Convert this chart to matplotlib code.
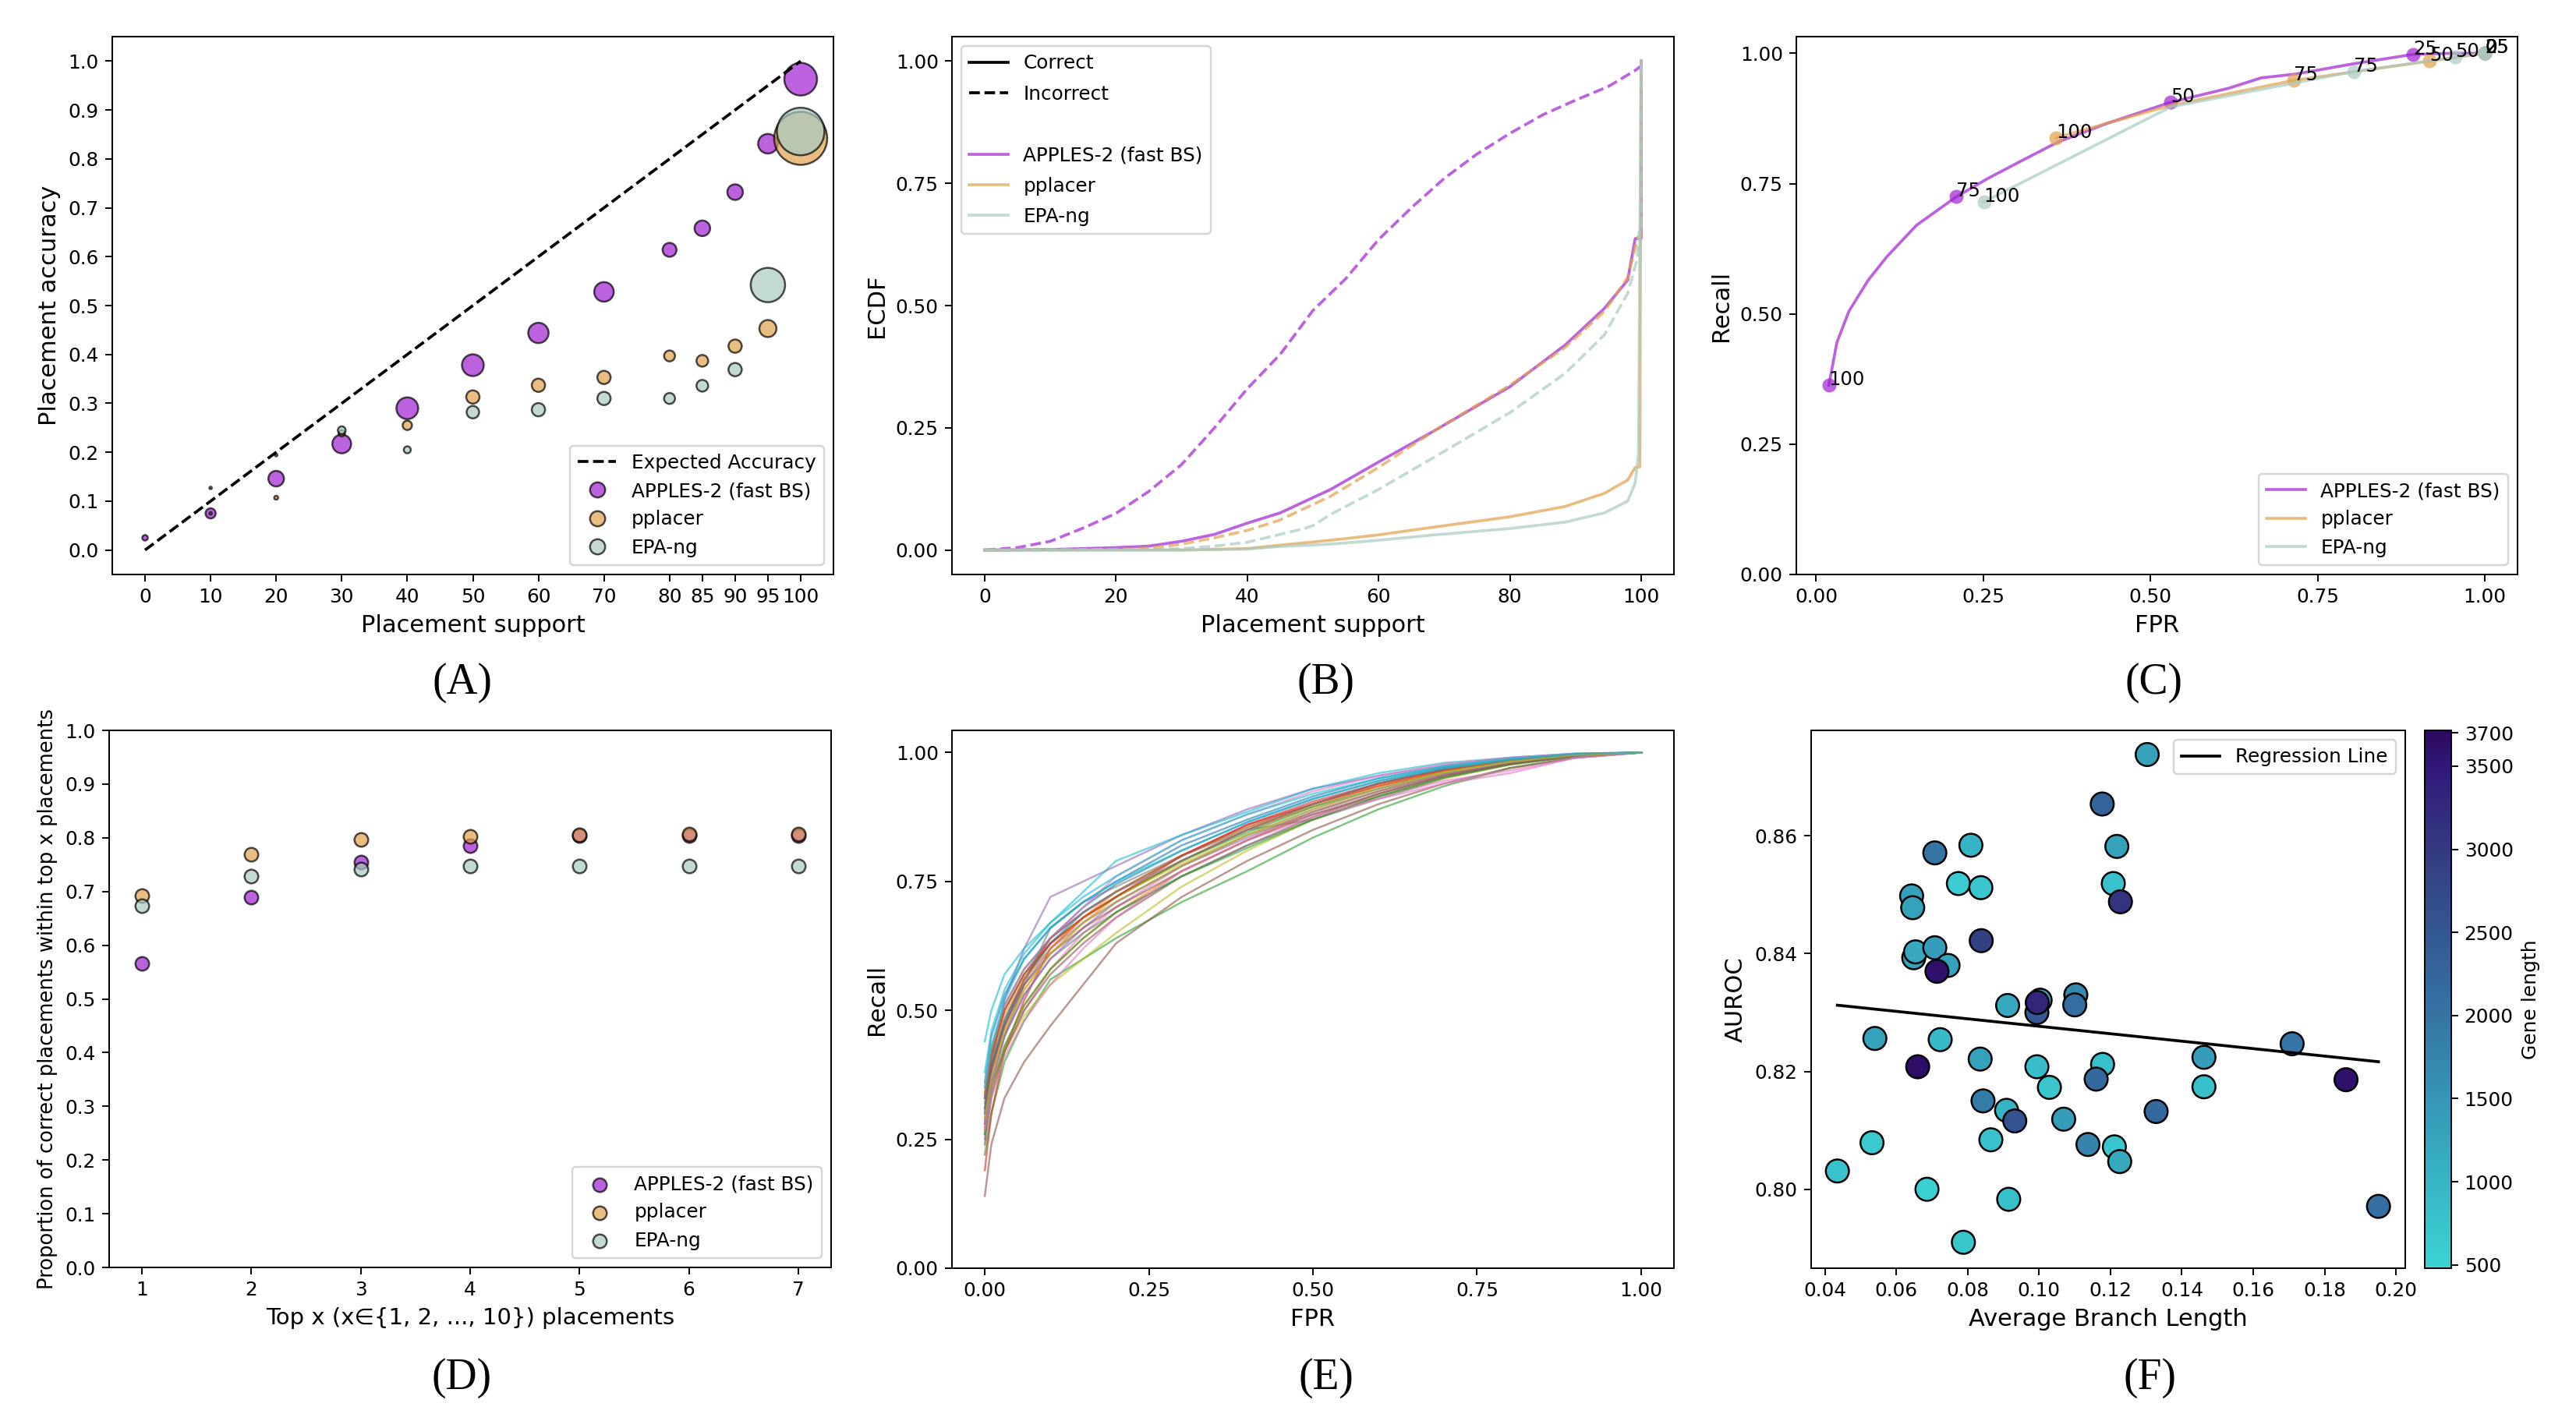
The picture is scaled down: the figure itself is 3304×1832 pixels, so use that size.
import numpy as np
import matplotlib
matplotlib.use("Agg")
import matplotlib.pyplot as plt
from matplotlib.lines import Line2D
from matplotlib.colors import LinearSegmentedColormap, Normalize

# ---------------- data ----------------
# Panel A
support = [0, 10, 20, 30, 40, 50, 60, 70, 80, 85, 90, 95, 100]
support_labels = [str(v) for v in support]
apples_acc = [0.025, 0.075, 0.146, 0.217, 0.290, 0.378, 0.444, 0.528, 0.614, 0.658, 0.732, 0.831, 0.963]
apples_n = [5, 17, 40, 58, 78, 78, 68, 63, 32, 40, 40, 63, 176]
pplacer_acc = [np.nan, 0.127, 0.107, 0.239, 0.255, 0.313, 0.337, 0.353, 0.397, 0.387, 0.417, 0.453, 0.842]
pplacer_n = [0, 1, 2.5, 6.4, 14.4, 29, 29, 29, 19.6, 22.5, 29, 48, 462]
epa_acc = [np.nan, 0.075, 0.194, 0.245, 0.205, 0.282, 0.287, 0.310, 0.310, 0.336, 0.369, 0.542, 0.856]
epa_n = [0, 1, 1, 10, 8, 25.6, 29, 29, 19.6, 22.5, 29, 194, 372]
expected_x = [0, 100]
expected_y = [0.0, 1.0]

# Panel B (ECDF of placement support)
app_inc_x = [0, 5, 10, 15, 20, 25, 30, 35, 40, 45, 50, 55, 60, 65, 70, 75, 80, 85, 90, 95, 99, 100, 100]
app_inc_y = [0, 0.005, 0.018, 0.045, 0.075, 0.12, 0.175, 0.25, 0.33, 0.40, 0.49, 0.555, 0.635, 0.70,
             0.76, 0.81, 0.852, 0.89, 0.92, 0.948, 0.98, 0.99, 1.0]
app_cor_x = [0, 10, 20, 25, 30, 35, 40, 45, 52.7, 60, 68.5, 80, 88.4, 94.4, 97.95, 99.1, 100, 100]
app_cor_y = [0, 0.001, 0.005, 0.008, 0.018, 0.032, 0.055, 0.076, 0.124, 0.18, 0.244, 0.334, 0.419,
             0.494, 0.552, 0.637, 0.637, 1.0]
ppl_inc_x = [0, 20, 25, 30, 35, 40, 44.7, 52.7, 60, 68.5, 80, 88.4, 94.4, 97.95, 99.5, 100, 100]
ppl_inc_y = [0, 0.001, 0.004, 0.012, 0.025, 0.04, 0.06, 0.11, 0.169, 0.244, 0.337, 0.414, 0.488,
             0.557, 0.64, 0.64, 1.0]
ppl_cor_x = [0, 30, 40, 44.7, 52.7, 60, 68.5, 80, 88.4, 94.4, 97.95, 99.1, 99.8, 100]
ppl_cor_y = [0, 0.0, 0.003, 0.0096, 0.02, 0.031, 0.047, 0.068, 0.089, 0.116, 0.143, 0.169, 0.17, 1.0]
epa_inc_x = [0, 25, 30, 35, 40, 44.7, 48.7, 50, 52.7, 60, 68.5, 80, 88.4, 94.4, 97.95, 99.4, 99.7, 100, 100]
epa_inc_y = [0, 0.001, 0.003, 0.008, 0.016, 0.031, 0.044, 0.05, 0.073, 0.124, 0.19, 0.281, 0.361,
             0.44, 0.525, 0.595, 0.65, 0.65, 1.0]
epa_cor_x = [0, 30, 40, 44.7, 52.7, 60, 68.5, 80, 88.4, 94.4, 97.95, 99.1, 99.6, 100]
epa_cor_y = [0, 0, 0.002, 0.007, 0.012, 0.02, 0.031, 0.044, 0.057, 0.076, 0.1, 0.137, 0.196, 1.0]

# Panel C (ROC with support thresholds)
app_roc_fpr = [0.019, 0.031, 0.049, 0.078, 0.106, 0.150, 0.210, 0.257, 0.309, 0.362, 0.434, 0.530,
               0.617, 0.666, 0.716, 0.804, 0.893, 0.95, 1.0]
app_roc_rec = [0.363, 0.445, 0.505, 0.565, 0.610, 0.670, 0.725, 0.760, 0.795, 0.830, 0.865, 0.906,
               0.933, 0.953, 0.960, 0.980, 0.998, 1.0, 1.0]
ppl_roc_fpr = [0.359, 0.530, 0.714, 0.917, 1.0]
ppl_roc_rec = [0.838, 0.900, 0.948, 0.985, 1.0]
epa_roc_fpr = [0.251, 0.530, 0.804, 0.956, 1.0]
epa_roc_rec = [0.715, 0.897, 0.965, 0.9925, 1.0]
thresholds = ["100", "75", "50", "25", "0"]
app_thr_fpr = [0.019, 0.210, 0.530, 0.893, 1.0]
app_thr_rec = [0.363, 0.725, 0.906, 0.998, 1.0]
ppl_thr_fpr = [0.359, 0.714, 0.917, 1.0, 1.0]
ppl_thr_rec = [0.838, 0.948, 0.985, 1.0, 1.0]
epa_thr_fpr = [0.251, 0.804, 0.956, 1.0, 1.0]
epa_thr_rec = [0.715, 0.965, 0.9925, 1.0, 1.0]

# Panel D
topx = [1, 2, 3, 4, 5, 6, 7]
apples_top = [0.566, 0.690, 0.754, 0.785, 0.804, 0.804, 0.804]
pplacer_top = [0.693, 0.769, 0.797, 0.802, 0.805, 0.807, 0.807]
epa_top = [0.674, 0.729, 0.742, 0.748, 0.748, 0.748, 0.748]

# Panel E (per-gene ROC curves)
gene_fpr = [0.0, 0.01, 0.03, 0.06, 0.1, 0.15, 0.2, 0.3, 0.4, 0.5, 0.6, 0.7, 0.8, 0.9, 1.0]
gene_recall = [
    [0.33, 0.42, 0.50, 0.57, 0.64, 0.70, 0.745, 0.81, 0.865, 0.91, 0.945, 0.97, 0.985, 0.996, 1.0],
    [0.30, 0.38, 0.46, 0.54, 0.61, 0.67, 0.72, 0.79, 0.85, 0.895, 0.935, 0.962, 0.982, 0.995, 1.0],
    [0.22, 0.30, 0.40, 0.48, 0.56, 0.60, 0.64, 0.71, 0.77, 0.835, 0.89, 0.935, 0.97, 0.99, 1.0],
    [0.19, 0.30, 0.42, 0.52, 0.62, 0.68, 0.72, 0.79, 0.85, 0.90, 0.935, 0.965, 0.984, 0.996, 1.0],
    [0.25, 0.40, 0.52, 0.62, 0.72, 0.75, 0.78, 0.84, 0.89, 0.93, 0.955, 0.975, 0.99, 0.998, 1.0],
    [0.14, 0.24, 0.33, 0.40, 0.47, 0.55, 0.63, 0.72, 0.79, 0.85, 0.90, 0.94, 0.97, 0.99, 1.0],
    [0.30, 0.36, 0.42, 0.50, 0.58, 0.65, 0.70, 0.78, 0.84, 0.88, 0.915, 0.945, 0.965, 0.99, 1.0],
    [0.26, 0.35, 0.45, 0.55, 0.66, 0.71, 0.74, 0.80, 0.85, 0.87, 0.91, 0.95, 0.978, 0.994, 1.0],
    [0.27, 0.34, 0.42, 0.49, 0.55, 0.60, 0.65, 0.74, 0.81, 0.87, 0.915, 0.95, 0.976, 0.993, 1.0],
    [0.44, 0.50, 0.57, 0.62, 0.67, 0.73, 0.79, 0.84, 0.885, 0.93, 0.96, 0.98, 0.99, 0.998, 1.0],
    [0.36, 0.45, 0.53, 0.60, 0.66, 0.71, 0.75, 0.82, 0.87, 0.915, 0.95, 0.972, 0.987, 0.997, 1.0],
    [0.27, 0.35, 0.43, 0.51, 0.58, 0.64, 0.69, 0.77, 0.83, 0.885, 0.925, 0.958, 0.98, 0.994, 1.0],
    [0.32, 0.40, 0.48, 0.56, 0.63, 0.68, 0.72, 0.79, 0.845, 0.895, 0.93, 0.962, 0.982, 0.995, 1.0],
    [0.28, 0.38, 0.47, 0.56, 0.64, 0.69, 0.73, 0.80, 0.86, 0.905, 0.94, 0.968, 0.985, 0.996, 1.0],
    [0.31, 0.39, 0.47, 0.55, 0.62, 0.67, 0.71, 0.78, 0.84, 0.89, 0.93, 0.96, 0.98, 0.995, 1.0],
    [0.24, 0.33, 0.42, 0.50, 0.57, 0.63, 0.68, 0.76, 0.82, 0.875, 0.92, 0.955, 0.978, 0.993, 1.0],
    [0.35, 0.43, 0.51, 0.58, 0.64, 0.70, 0.76, 0.83, 0.88, 0.925, 0.955, 0.978, 0.99, 0.998, 1.0],
    [0.29, 0.37, 0.45, 0.53, 0.60, 0.65, 0.69, 0.76, 0.82, 0.87, 0.915, 0.952, 0.977, 0.993, 1.0],
    [0.34, 0.42, 0.50, 0.57, 0.63, 0.68, 0.72, 0.785, 0.84, 0.885, 0.925, 0.96, 0.98, 0.995, 1.0],
    [0.38, 0.46, 0.54, 0.61, 0.67, 0.72, 0.76, 0.83, 0.88, 0.92, 0.95, 0.974, 0.988, 0.997, 1.0],
    [0.30, 0.39, 0.48, 0.56, 0.63, 0.69, 0.73, 0.80, 0.855, 0.90, 0.94, 0.967, 0.984, 0.996, 1.0],
    [0.34, 0.41, 0.49, 0.56, 0.62, 0.68, 0.73, 0.80, 0.855, 0.90, 0.938, 0.965, 0.984, 0.996, 1.0],
    [0.26, 0.34, 0.43, 0.51, 0.58, 0.64, 0.69, 0.76, 0.815, 0.87, 0.915, 0.952, 0.977, 0.993, 1.0],
    [0.33, 0.41, 0.50, 0.57, 0.63, 0.68, 0.72, 0.80, 0.86, 0.90, 0.94, 0.966, 0.985, 0.996, 1.0],
    [0.28, 0.36, 0.45, 0.53, 0.60, 0.66, 0.71, 0.78, 0.835, 0.885, 0.925, 0.958, 0.98, 0.994, 1.0],
    [0.31, 0.39, 0.47, 0.55, 0.61, 0.66, 0.70, 0.77, 0.83, 0.88, 0.92, 0.955, 0.978, 0.994, 1.0],
    [0.27, 0.34, 0.41, 0.48, 0.55, 0.62, 0.68, 0.77, 0.83, 0.875, 0.91, 0.94, 0.96, 0.99, 1.0],
    [0.33, 0.42, 0.51, 0.58, 0.64, 0.69, 0.73, 0.79, 0.85, 0.90, 0.94, 0.968, 0.985, 0.996, 1.0],
    [0.29, 0.37, 0.46, 0.54, 0.61, 0.67, 0.71, 0.78, 0.84, 0.89, 0.93, 0.962, 0.982, 0.995, 1.0],
    [0.35, 0.43, 0.52, 0.60, 0.66, 0.71, 0.75, 0.81, 0.865, 0.91, 0.945, 0.97, 0.986, 0.997, 1.0],
]

# Panel F
avg_branch = [0.1303, 0.1177, 0.0809, 0.0708, 0.1218, 0.0774, 0.0837, 0.1208, 0.0643, 0.0646,
              0.1228, 0.0838, 0.0649, 0.0654, 0.0708, 0.0745, 0.0714, 0.0912, 0.1003, 0.0994,
              0.0995, 0.1103, 0.1100, 0.0540, 0.0723, 0.0660, 0.0835, 0.0994, 0.1178, 0.1029,
              0.1160, 0.1462, 0.1462, 0.1709, 0.1860, 0.0843, 0.0909, 0.0932, 0.1069, 0.1328,
              0.0532, 0.0865, 0.1137, 0.1211, 0.1226, 0.0435, 0.0686, 0.0915, 0.0788, 0.1951]
auroc = [0.8738, 0.8654, 0.8584, 0.8571, 0.8582, 0.8519, 0.8512, 0.8519, 0.8498, 0.8478,
         0.8488, 0.8422, 0.8393, 0.8403, 0.8410, 0.8380, 0.8370, 0.8312, 0.8321, 0.8300,
         0.8317, 0.8330, 0.8313, 0.8256, 0.8254, 0.8208, 0.8221, 0.8208, 0.8212, 0.8173,
         0.8187, 0.8224, 0.8174, 0.8247, 0.8186, 0.8150, 0.8134, 0.8116, 0.8119, 0.8132,
         0.8079, 0.8084, 0.8076, 0.8072, 0.8047, 0.8031, 0.8000, 0.7983, 0.7910, 0.7971]
gene_length = [1300, 2300, 1000, 2000, 1300, 600, 700, 750, 1300, 1300,
               3100, 2900, 1300, 1200, 1400, 1300, 3600, 1200, 1200, 2500,
               3300, 1700, 2100, 1300, 900, 3650, 1300, 850, 800, 700,
               2200, 1400, 800, 2000, 3600, 1900, 1000, 2600, 1400, 2200,
               650, 750, 1800, 700, 1200, 750, 550, 800, 700, 2100]
gene_min, gene_max = 480, 3715
reg_slope, reg_intercept = -0.0633, 0.8340
cbar_ticks = [500, 1000, 1500, 2000, 2500, 3000, 3500, 3700]
cmap_vals = [500, 1000, 1500, 2000, 2500, 3000, 3500, 3700]
cmap_cols = ["#3BD3D3", "#36B4C5", "#3596B6", "#3574A4", "#335893", "#343A80", "#32187A", "#2C0A5E"]

# ---------------- style ----------------
plt.rcParams.update({
    "font.family": ["DejaVu Sans"],
    "font.size": 17.8,
    "axes.labelsize": 22,
    "xtick.labelsize": 17.8,
    "ytick.labelsize": 17.8,
    "legend.fontsize": 17.8,
    "lines.linewidth": 2.67,
    "axes.linewidth": 1.42,
    "xtick.major.size": 6.2, "ytick.major.size": 6.2,
    "xtick.major.width": 1.42, "ytick.major.width": 1.42,
    "xtick.major.pad": 6.2, "ytick.major.pad": 6.2,
    "axes.labelpad": 7.1,
    "patch.linewidth": 1.78,
})

C_APP = "#A020D0"
C_PPL = "#E1A24C"
C_EPA = "#A8CAC2"
ALPHA = 0.7

W, H = 3304, 1832
fig = plt.figure(figsize=(W / 100, H / 100), dpi=100)


def add_ax(l, t, r, b):
    return fig.add_axes([l / W, 1 - b / H, (r - l) / W, (b - t) / H])


# ---------------- Panel A ----------------
axA = add_ax(144, 47, 1069, 737)
axA.plot(expected_x, expected_y, "--", color="black", label="Expected Accuracy")
for acc, n, c in [(apples_acc, apples_n, C_APP), (pplacer_acc, pplacer_n, C_PPL), (epa_acc, epa_n, C_EPA)]:
    axA.scatter(support, acc, s=np.array(n) * 5.184, color=c, alpha=ALPHA,
                edgecolors="black", linewidths=1.78)
axA.set_xticks(support)
axA.set_xticklabels(support_labels)
axA.set_yticks(np.round(np.arange(0, 1.01, 0.1), 1))
axA.set_xlim(-5, 105)
axA.set_ylim(-0.05, 1.05)
axA.set_xlabel("Placement support")
axA.set_ylabel("Placement accuracy")
hA = [Line2D([], [], ls="--", color="black"),
      Line2D([], [], ls="", marker="o", ms=14, mfc=C_APP, mec="black", mew=1.78, alpha=ALPHA),
      Line2D([], [], ls="", marker="o", ms=14, mfc=C_PPL, mec="black", mew=1.78, alpha=ALPHA),
      Line2D([], [], ls="", marker="o", ms=14, mfc=C_EPA, mec="black", mew=1.78, alpha=ALPHA)]
axA.legend(hA, ["Expected Accuracy", "APPLES-2 (fast BS)", "pplacer", "EPA-ng"], loc="lower right")

# ---------------- Panel B ----------------
axB = add_ax(1221, 47, 2147, 737)
axB.plot(app_cor_x, app_cor_y, "-", color=C_APP, alpha=ALPHA)
axB.plot(app_inc_x, app_inc_y, "--", color=C_APP, alpha=ALPHA)
axB.plot(ppl_cor_x, ppl_cor_y, "-", color=C_PPL, alpha=ALPHA)
axB.plot(ppl_inc_x, ppl_inc_y, "--", color=C_PPL, alpha=ALPHA)
axB.plot(epa_inc_x, epa_inc_y, "--", color=C_EPA, alpha=ALPHA)
axB.plot(epa_cor_x, epa_cor_y, "-", color=C_EPA, alpha=ALPHA)
axB.set_xlim(-5, 105)
axB.set_ylim(-0.05, 1.05)
axB.set_yticks([0, 0.25, 0.5, 0.75, 1.0])
axB.set_xlabel("Placement support")
axB.set_ylabel("ECDF")
hB = [Line2D([], [], color="black"), Line2D([], [], color="black", ls="--"),
      Line2D([], [], color="none"),
      Line2D([], [], color=C_APP, alpha=ALPHA), Line2D([], [], color=C_PPL, alpha=ALPHA),
      Line2D([], [], color=C_EPA, alpha=ALPHA)]
axB.legend(hB, ["Correct", "Incorrect", " ", "APPLES-2 (fast BS)", "pplacer", "EPA-ng"],
           loc="upper left", labelspacing=0.62)

# ---------------- Panel C ----------------
axC = add_ax(2304, 47, 3229, 737)
for fx, fy, tx, ty, c, lab in [(app_roc_fpr, app_roc_rec, app_thr_fpr, app_thr_rec, C_APP, "APPLES-2 (fast BS)"),
                               (ppl_roc_fpr, ppl_roc_rec, ppl_thr_fpr, ppl_thr_rec, C_PPL, "pplacer"),
                               (epa_roc_fpr, epa_roc_rec, epa_thr_fpr, epa_thr_rec, C_EPA, "EPA-ng")]:
    axC.plot(fx, fy, "-", color=c, alpha=ALPHA, label=lab)
    axC.plot(tx, ty, "o", color=c, alpha=ALPHA, ms=13, mec="none")
    for xv, yv, t in zip(tx, ty, thresholds):
        axC.text(xv, yv, t, fontsize=17.5)
axC.set_ylim(0, 1.032)
axC.set_xlim(-0.0296, 1.049)
axC.set_xticks([0, 0.25, 0.5, 0.75, 1.0])
axC.set_yticks([0, 0.25, 0.5, 0.75, 1.0])
axC.set_xlabel("FPR")
axC.set_ylabel("Recall")
axC.legend(loc="lower right")

# ---------------- Panel D ----------------
axD = add_ax(140, 937, 1066, 1626)
axD.scatter(topx, apples_top, s=160, color=C_APP, alpha=ALPHA, edgecolors="black", linewidths=1.78,
            label="APPLES-2 (fast BS)")
axD.scatter(topx, pplacer_top, s=160, color=C_PPL, alpha=ALPHA, edgecolors="black", linewidths=1.78,
            label="pplacer")
axD.scatter(topx, epa_top, s=160, color=C_EPA, alpha=ALPHA, edgecolors="black", linewidths=1.78,
            label="EPA-ng")
axD.set_ylim(0, 1)
axD.set_xlim(0.7, 7.3)
axD.set_yticks(np.round(np.arange(0, 1.01, 0.1), 1))
axD.set_xticks(topx)
axD.set_xlabel("Top x (x\u2208{1, 2, ..., 10}) placements", fontsize=21)
axD.set_ylabel("Proportion of correct placements within top x placements", fontsize=18.6)
axD.legend(loc="lower right")

# ---------------- Panel E ----------------
axE = add_ax(1221, 937, 2147, 1627)
for i, rec in enumerate(gene_recall):
    axE.plot(gene_fpr, rec, color=f"C{i % 10}", alpha=0.6, lw=1.8)
axE.set_xlim(-0.05, 1.05)
axE.set_ylim(0, 1.043)
axE.set_xticks([0, 0.25, 0.5, 0.75, 1.0])
axE.set_yticks([0, 0.25, 0.5, 0.75, 1.0])
axE.set_xlabel("FPR")
axE.set_ylabel("Recall")

# ---------------- Panel F ----------------
axF = add_ax(2323, 937, 3085, 1627)
cax = add_ax(3110, 937, 3143.5, 1627)
cmap = LinearSegmentedColormap.from_list(
    "gene", [((v - gene_min) / (gene_max - gene_min), c) for v, c in
             zip([gene_min] + cmap_vals[1:-1] + [gene_max], cmap_cols)])
norm = Normalize(vmin=gene_min, vmax=gene_max)
sc = axF.scatter(avg_branch, auroc, c=gene_length, cmap=cmap, norm=norm, s=454,
                 edgecolors="black", linewidths=1.78)
xr = np.array([min(avg_branch), max(avg_branch)])
axF.plot(xr, reg_slope * xr + reg_intercept, color="black", label="Regression Line")
axF.set_xlim(0.03615, 0.2026)
axF.set_ylim(0.7866, 0.8779)
axF.set_xticks(np.round(np.arange(0.04, 0.201, 0.02), 2))
axF.set_yticks([0.80, 0.82, 0.84, 0.86])
axF.set_xlabel("Average Branch Length")
axF.set_ylabel("AUROC")
axF.legend(loc="upper right")
cb = fig.colorbar(sc, cax=cax, ticks=cbar_ticks)
cb.set_label("Gene length", fontsize=18)
cb.outline.set_linewidth(1.42)

# ---------------- panel letters ----------------
for lab, x, y in [("(A)", 593, 876), ("(B)", 1701, 876), ("(C)", 2763, 876),
                  ("(D)", 592, 1768), ("(E)", 1701, 1768), ("(F)", 2758, 1768)]:
    fig.text(x / W, 1 - y / H, lab, ha="center", va="center", fontsize=40,
             family=["Liberation Serif", "DejaVu Serif"])

fig.savefig("out.png", dpi=100, facecolor="white")
